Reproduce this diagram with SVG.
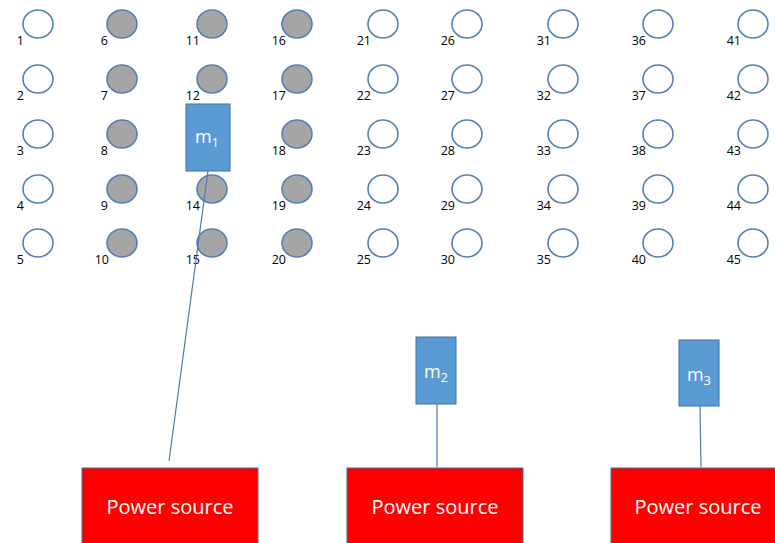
<svg xmlns="http://www.w3.org/2000/svg" width="775" height="543" viewBox="0 0 775 543">
<style>
.c{stroke:#5480B4;stroke-width:1.6;fill:#fff}
.g{fill:#A5A5A5}
.l{font-family:"Open Sans","Liberation Sans",sans-serif;font-size:12.5px;fill:#000;text-anchor:end}
.m{fill:#5B9BD5;stroke:#41719C;stroke-width:1}
.mt{font-family:"Open Sans","Liberation Sans",sans-serif;font-size:18px;fill:#fff;text-anchor:middle}
.p{fill:#FF0000;stroke:#41719C;stroke-width:1}
.pt{font-family:"Open Sans","Liberation Sans",sans-serif;font-size:20px;fill:#fff;text-anchor:middle}
.w{stroke:#4F7AAE;stroke-width:1.2;fill:none}
</style>
<g id="nodes-grid">
<g id="n1"><ellipse class="c" cx="38" cy="24" rx="15" ry="14"/><text class="l" x="24" y="45">1</text></g>
<g id="n2"><ellipse class="c" cx="38" cy="79" rx="15" ry="14"/><text class="l" x="24" y="100">2</text></g>
<g id="n3"><ellipse class="c" cx="38" cy="134" rx="15" ry="14"/><text class="l" x="24" y="155">3</text></g>
<g id="n4"><ellipse class="c" cx="38" cy="189" rx="15" ry="14"/><text class="l" x="24" y="210">4</text></g>
<g id="n5"><ellipse class="c" cx="38" cy="243" rx="15" ry="14"/><text class="l" x="24" y="264">5</text></g>
<g id="n6"><ellipse class="c g" cx="122" cy="24" rx="15" ry="14"/><text class="l" x="108" y="45">6</text></g>
<g id="n7"><ellipse class="c g" cx="122" cy="79" rx="15" ry="14"/><text class="l" x="108" y="100">7</text></g>
<g id="n8"><ellipse class="c g" cx="122" cy="134" rx="15" ry="14"/><text class="l" x="108" y="155">8</text></g>
<g id="n9"><ellipse class="c g" cx="122" cy="189" rx="15" ry="14"/><text class="l" x="108" y="210">9</text></g>
<g id="n10"><ellipse class="c g" cx="122" cy="243" rx="15" ry="14"/><text class="l" x="109" y="264">10</text></g>
<g id="n11"><ellipse class="c g" cx="212" cy="24" rx="15" ry="14"/><text class="l" x="200" y="45">11</text></g>
<g id="n12"><ellipse class="c g" cx="212" cy="79" rx="15" ry="14"/><text class="l" x="200" y="100">12</text></g>
<g id="n14"><ellipse class="c g" cx="212" cy="189" rx="15" ry="14"/><text class="l" x="200" y="210">14</text></g>
<g id="n15"><ellipse class="c g" cx="212" cy="243" rx="15" ry="14"/><text class="l" x="200" y="264">15</text></g>
<g id="n16"><ellipse class="c g" cx="297" cy="24" rx="15" ry="14"/><text class="l" x="286" y="45">16</text></g>
<g id="n17"><ellipse class="c g" cx="297" cy="79" rx="15" ry="14"/><text class="l" x="286" y="100">17</text></g>
<g id="n18"><ellipse class="c g" cx="297" cy="134" rx="15" ry="14"/><text class="l" x="286" y="155">18</text></g>
<g id="n19"><ellipse class="c g" cx="297" cy="189" rx="15" ry="14"/><text class="l" x="286" y="210">19</text></g>
<g id="n20"><ellipse class="c g" cx="297" cy="243" rx="15" ry="14"/><text class="l" x="286" y="264">20</text></g>
<g id="n21"><ellipse class="c" cx="383" cy="24" rx="15" ry="14"/><text class="l" x="371" y="45">21</text></g>
<g id="n22"><ellipse class="c" cx="383" cy="79" rx="15" ry="14"/><text class="l" x="371" y="100">22</text></g>
<g id="n23"><ellipse class="c" cx="383" cy="134" rx="15" ry="14"/><text class="l" x="371" y="155">23</text></g>
<g id="n24"><ellipse class="c" cx="383" cy="189" rx="15" ry="14"/><text class="l" x="371" y="210">24</text></g>
<g id="n25"><ellipse class="c" cx="383" cy="243" rx="15" ry="14"/><text class="l" x="371" y="264">25</text></g>
<g id="n26"><ellipse class="c" cx="467" cy="24" rx="15" ry="14"/><text class="l" x="455" y="45">26</text></g>
<g id="n27"><ellipse class="c" cx="467" cy="79" rx="15" ry="14"/><text class="l" x="455" y="100">27</text></g>
<g id="n28"><ellipse class="c" cx="467" cy="134" rx="15" ry="14"/><text class="l" x="455" y="155">28</text></g>
<g id="n29"><ellipse class="c" cx="467" cy="189" rx="15" ry="14"/><text class="l" x="455" y="210">29</text></g>
<g id="n30"><ellipse class="c" cx="467" cy="243" rx="15" ry="14"/><text class="l" x="455" y="264">30</text></g>
<g id="n31"><ellipse class="c" cx="563" cy="24" rx="15" ry="14"/><text class="l" x="551" y="45">31</text></g>
<g id="n32"><ellipse class="c" cx="563" cy="79" rx="15" ry="14"/><text class="l" x="551" y="100">32</text></g>
<g id="n33"><ellipse class="c" cx="563" cy="134" rx="15" ry="14"/><text class="l" x="551" y="155">33</text></g>
<g id="n34"><ellipse class="c" cx="563" cy="189" rx="15" ry="14"/><text class="l" x="551" y="210">34</text></g>
<g id="n35"><ellipse class="c" cx="563" cy="243" rx="15" ry="14"/><text class="l" x="551" y="264">35</text></g>
<g id="n36"><ellipse class="c" cx="658" cy="24" rx="15" ry="14"/><text class="l" x="646" y="45">36</text></g>
<g id="n37"><ellipse class="c" cx="658" cy="79" rx="15" ry="14"/><text class="l" x="646" y="100">37</text></g>
<g id="n38"><ellipse class="c" cx="658" cy="134" rx="15" ry="14"/><text class="l" x="646" y="155">38</text></g>
<g id="n39"><ellipse class="c" cx="658" cy="189" rx="15" ry="14"/><text class="l" x="646" y="210">39</text></g>
<g id="n40"><ellipse class="c" cx="658" cy="243" rx="15" ry="14"/><text class="l" x="646" y="264">40</text></g>
<g id="n41"><ellipse class="c" cx="753" cy="24" rx="15" ry="14"/><text class="l" x="741" y="45">41</text></g>
<g id="n42"><ellipse class="c" cx="753" cy="79" rx="15" ry="14"/><text class="l" x="741" y="100">42</text></g>
<g id="n43"><ellipse class="c" cx="753" cy="134" rx="15" ry="14"/><text class="l" x="741" y="155">43</text></g>
<g id="n44"><ellipse class="c" cx="753" cy="189" rx="15" ry="14"/><text class="l" x="741" y="210">44</text></g>
<g id="n45"><ellipse class="c" cx="753" cy="243" rx="15" ry="14"/><text class="l" x="741" y="264">45</text></g>
</g>
<g id="connectors">
<line class="w" x1="208" y1="171" x2="169" y2="461"/>
<line class="w" x1="437" y1="404" x2="437" y2="467"/>
<line class="w" x1="700" y1="406" x2="701" y2="467"/>
</g>
<g id="m1"><rect class="m" x="186" y="104" width="44" height="67"/><text class="mt" x="207" y="143">m<tspan font-size="13" dy="4">1</tspan></text></g>
<g id="m2"><rect class="m" x="416" y="337" width="40" height="67"/><text class="mt" x="436" y="378">m<tspan font-size="13" dy="4">2</tspan></text></g>
<g id="m3"><rect class="m" x="679" y="340" width="40" height="66"/><text class="mt" x="699" y="381">m<tspan font-size="13" dy="4">3</tspan></text></g>
<g id="ps1"><rect class="p" x="82" y="468" width="176" height="80"/><text class="pt" x="170" y="514">Power source</text></g>
<g id="ps2"><rect class="p" x="347" y="468" width="176" height="80"/><text class="pt" x="435" y="514">Power source</text></g>
<g id="ps3"><rect class="p" x="611" y="468" width="176" height="80"/><text class="pt" x="698" y="514">Power source</text></g>
</svg>
